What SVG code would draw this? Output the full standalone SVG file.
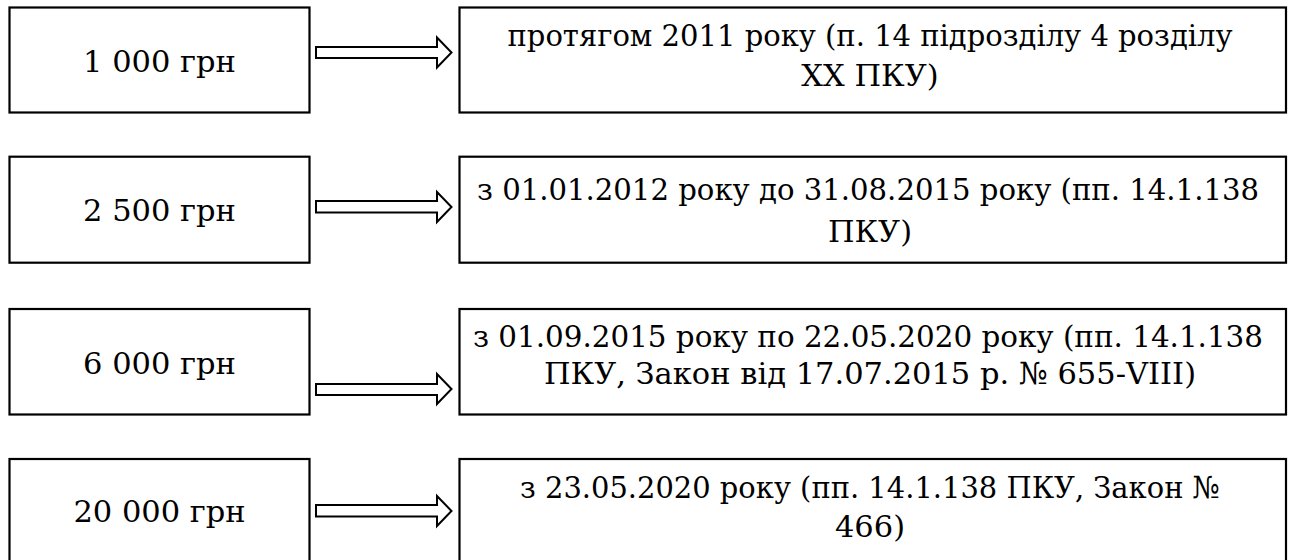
<svg xmlns="http://www.w3.org/2000/svg" width="1292" height="560" viewBox="0 0 1292 560">
<style>
.box{fill:#fff;stroke:#000;stroke-width:2.2}
.arr{fill:#fff;stroke:#000;stroke-width:2;stroke-linejoin:miter}
.long{font-size:29.5px}
</style>
<rect width="1292" height="560" fill="#fff"/>
<g font-family="DejaVu Serif, Liberation Serif, serif" font-size="30.5" fill="#000" text-anchor="middle">
<g id="left1"><rect class="box" x="9.5" y="7.5" width="300" height="105"/><text x="159.5" y="72">1 000 грн</text></g>
<g id="right1"><rect class="box" x="459.5" y="7.5" width="826.5" height="105"/><text x="870" y="46" textLength="725" lengthAdjust="spacingAndGlyphs">протягом 2011 року (п. 14 підрозділу 4 розділу</text><text x="870" y="86">ХХ ПКУ)</text></g>
<g id="left2"><rect class="box" x="9.5" y="156.7" width="300" height="106"/><text x="159.5" y="221">2 500 грн</text></g>
<g id="right2"><rect class="box" x="459.5" y="156.7" width="826.5" height="106"/><text class="long" x="868" y="200" textLength="782" lengthAdjust="spacingAndGlyphs">з 01.01.2012 року до 31.08.2015 року (пп. 14.1.138</text><text x="870" y="242">ПКУ)</text></g>
<g id="left3"><rect class="box" x="9.5" y="309" width="300" height="105.5"/><text x="159.5" y="374">6 000 грн</text></g>
<g id="right3"><rect class="box" x="459.5" y="309" width="826.5" height="105.5"/><text class="long" x="868" y="347" textLength="790" lengthAdjust="spacingAndGlyphs">з 01.09.2015 року по 22.05.2020 року (пп. 14.1.138</text><text x="870" y="384">ПКУ, Закон від 17.07.2015 р. № 655-VIII)</text></g>
<g id="left4"><rect class="box" x="9.5" y="459" width="300" height="105"/><text x="159.5" y="522">20 000 грн</text></g>
<g id="right4"><rect class="box" x="459.5" y="459" width="826.5" height="105"/><text x="870" y="498" textLength="700" lengthAdjust="spacingAndGlyphs">з 23.05.2020 року (пп. 14.1.138 ПКУ, Закон №</text><text x="870" y="537">466)</text></g>
</g>
<g id="connectors">
<path class="arr" d="M316,47 H437 V37.5 L451.5,52.5 L437,67.5 V58 H316 Z"/>
<path class="arr" d="M316,201 H437 V192 L451.5,207 L437,222 V212.5 H316 Z"/>
<path class="arr" d="M316,384 H437 V374 L451.5,389 L437,404 V395 H316 Z"/>
<path class="arr" d="M316,505 H437 V496 L451.5,511 L437,526 V516.5 H316 Z"/>
</g>
</svg>
